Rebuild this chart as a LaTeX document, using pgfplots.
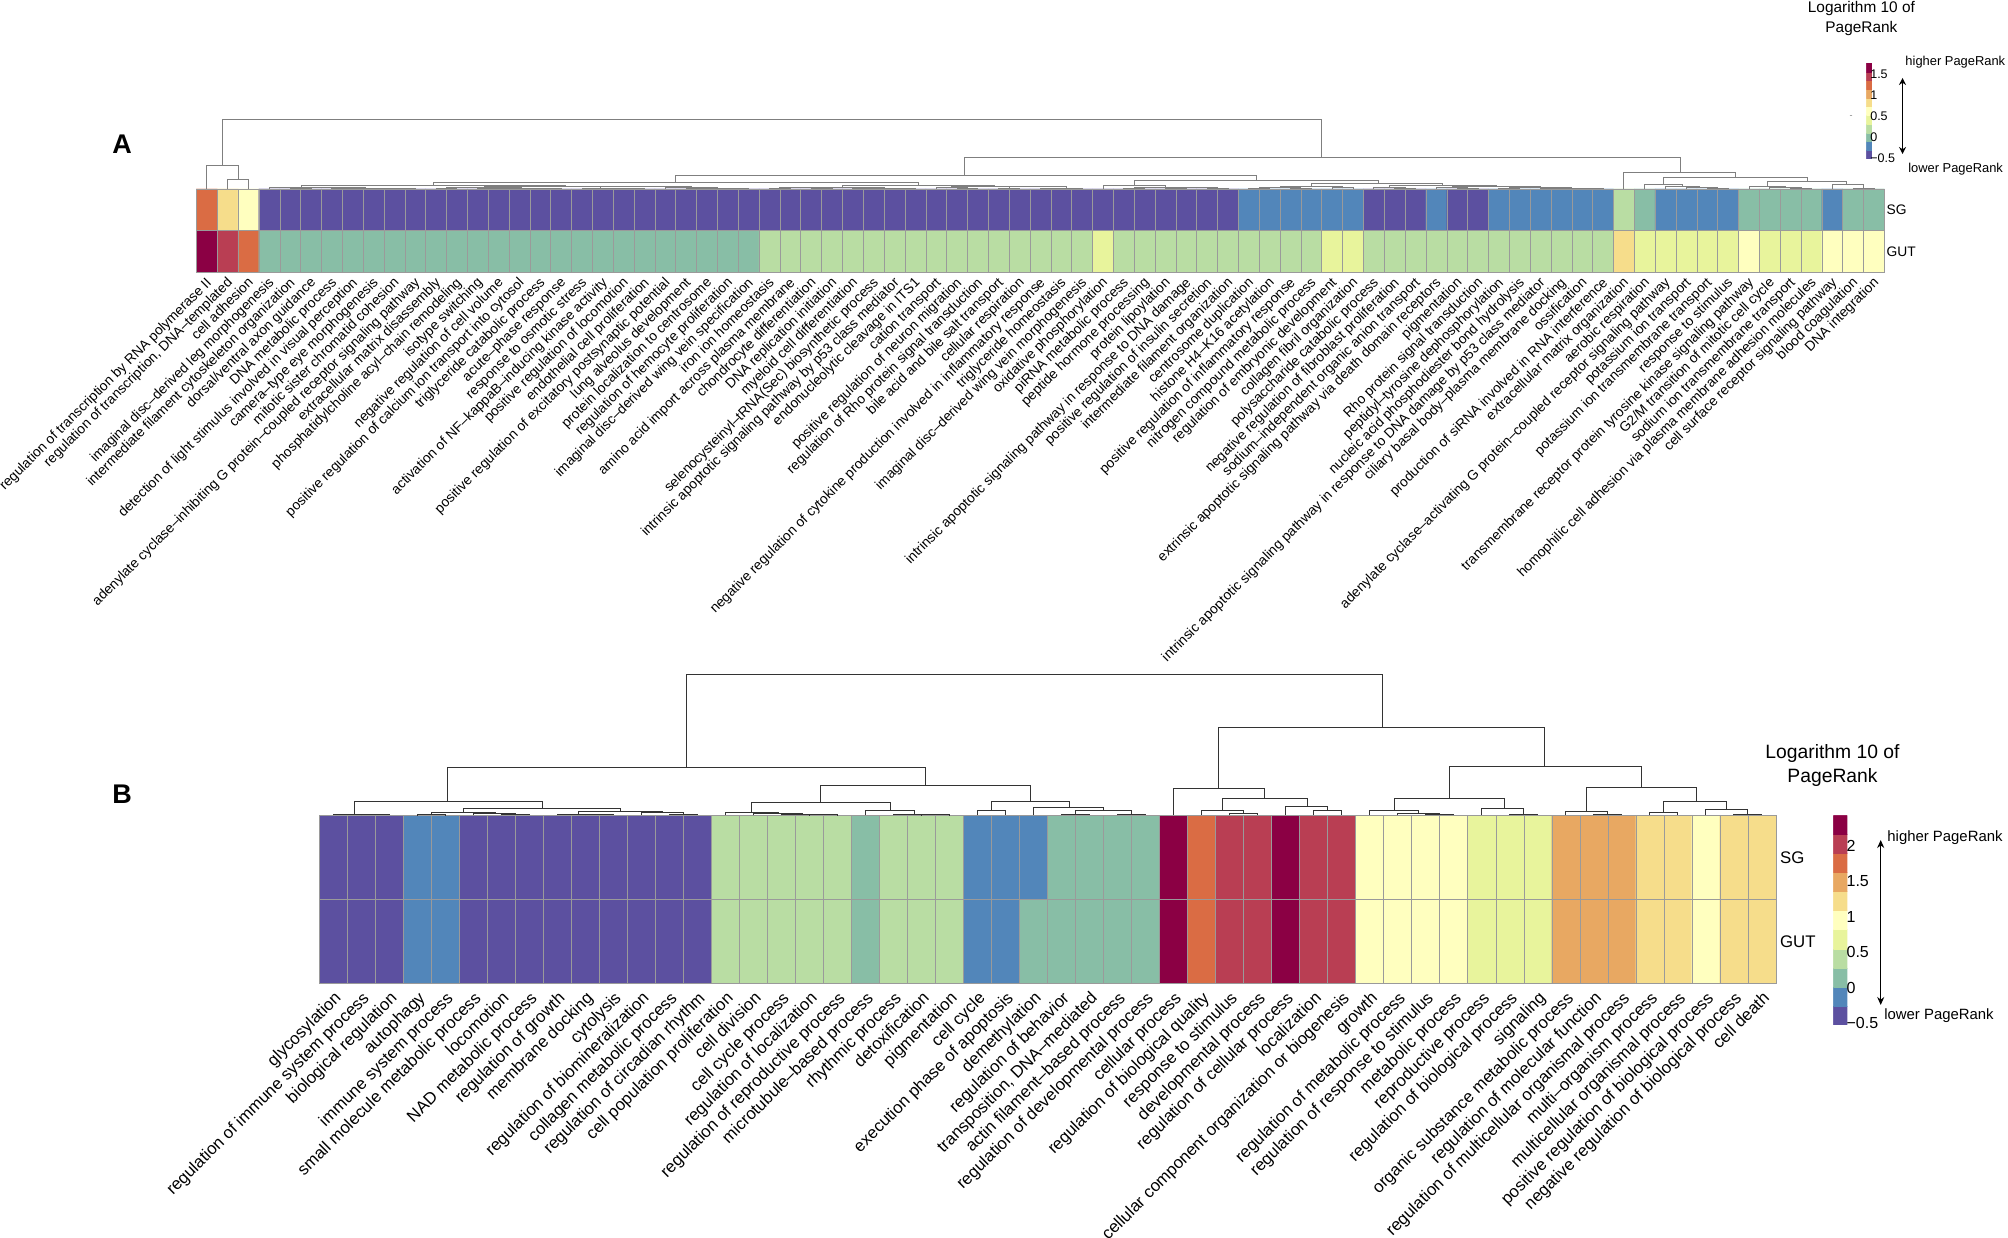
\documentclass[border=0pt]{standalone}
\usepackage{fontspec}
\setmainfont{Liberation Sans}
\usepackage{pgfplots}
\pgfplotsset{compat=1.18}
\usetikzlibrary{arrows.meta}

\definecolor{dendA}{HTML}{7F7F7F}
\definecolor{dendB}{HTML}{333333}
\definecolor{cellgrid}{HTML}{9A9A9A}

% spectral, 11 classes
\pgfplotsset{
  colormap={prank}{
    rgb255=(92,80,160) rgb255=(82,134,186) rgb255=(136,190,166) rgb255=(185,221,163)
    rgb255=(232,244,156) rgb255=(255,255,191) rgb255=(246,221,139) rgb255=(232,168,98)
    rgb255=(218,108,68) rgb255=(185,62,83) rgb255=(139,0,68)
  },
  heat/.style={
    scale only axis,
    colormap name=prank,
    colormap access=piecewise constant,
    axis on top,
    axis line style={draw=cellgrid},
    tick style={draw=none},
    major tick length=0pt,
    minor tick length=0pt,
    minor x tick num=1,
    minor y tick num=1,
    xminorgrids, yminorgrids,
    minor grid style={draw=cellgrid, line width=0.5pt},
    ytick={0,1},
    yticklabels={SG,GUT},
    yticklabel pos=right,
    y dir=reverse,
    clip=false,
  },
  dend/.style={
    scale only axis,
    axis lines=none,
    ymin=0,
    unbounded coords=jump,
  },
}

\begin{document}
\begin{tikzpicture}
\path[use as bounding box] (0pt,0pt) rectangle (2008pt,1237pt);

% ---------- panel A ----------
\begin{axis}[heat,
  at={(196.4pt,964.7pt)}, anchor=south west,
  width=1688pt, height=83.3pt,
  xmin=0.5, xmax=81.5, ymin=-0.5, ymax=1.5,
  xtick={1,...,81},
  xticklabels={
    regulation of transcription by RNA polymerase II,
    {regulation of transcription, DNA–templated},
    cell adhesion,
    imaginal disc–derived leg morphogenesis,
    intermediate filament cytoskeleton organization,
    dorsal/ventral axon guidance,
    DNA metabolic process,
    detection of light stimulus involved in visual perception,
    camera–type eye morphogenesis,
    mitotic sister chromatid cohesion,
    adenylate cyclase–inhibiting G protein–coupled receptor signaling pathway,
    extracellular matrix disassembly,
    phosphatidylcholine acyl–chain remodeling,
    isotype switching,
    negative regulation of cell volume,
    positive regulation of calcium ion transport into cytosol,
    triglyceride catabolic process,
    acute–phase response,
    response to osmotic stress,
    activation of NF–kappaB–inducing kinase activity,
    positive regulation of locomotion,
    endothelial cell proliferation,
    positive regulation of excitatory postsynaptic potential,
    lung alveolus development,
    protein localization to centrosome,
    regulation of hemocyte proliferation,
    imaginal disc–derived wing vein specification,
    iron ion homeostasis,
    amino acid import across plasma membrane,
    chondrocyte differentiation,
    DNA replication initiation,
    myeloid cell differentiation,
    selenocysteinyl–tRNA(Sec) biosynthetic process,
    intrinsic apoptotic signaling pathway by p53 class mediator,
    endonucleolytic cleavage in ITS1,
    cation transport,
    positive regulation of neuron migration,
    regulation of Rho protein signal transduction,
    bile acid and bile salt transport,
    cellular respiration,
    negative regulation of cytokine production involved in inflammatory response,
    triglyceride homeostasis,
    imaginal disc–derived wing vein morphogenesis,
    oxidative phosphorylation,
    piRNA metabolic process,
    peptide hormone processing,
    protein lipoylation,
    intrinsic apoptotic signaling pathway in response to DNA damage,
    positive regulation of insulin secretion,
    intermediate filament organization,
    centrosome duplication,
    histone H4–K16 acetylation,
    positive regulation of inflammatory response,
    nitrogen compound metabolic process,
    regulation of embryonic development,
    collagen fibril organization,
    polysaccharide catabolic process,
    negative regulation of fibroblast proliferation,
    sodium–independent organic anion transport,
    extrinsic apoptotic signaling pathway via death domain receptors,
    pigmentation,
    Rho protein signal transduction,
    peptidyl–tyrosine dephosphorylation,
    nucleic acid phosphodiester bond hydrolysis,
    intrinsic apoptotic signaling pathway in response to DNA damage by p53 class mediator,
    ciliary basal body–plasma membrane docking,
    ossification,
    production of siRNA involved in RNA interference,
    extracellular matrix organization,
    aerobic respiration,
    adenylate cyclase–activating G protein–coupled receptor signaling pathway,
    potassium ion transport,
    potassium ion transmembrane transport,
    response to stimulus,
    transmembrane receptor protein tyrosine kinase signaling pathway,
    G2/M transition of mitotic cell cycle,
    sodium ion transmembrane transport,
    homophilic cell adhesion via plasma membrane adhesion molecules,
    cell surface receptor signaling pathway,
    blood coagulation,
    DNA integration},
  x tick label style={rotate=45, anchor=north east, inner sep=0pt,
    font=\fontsize{13.8}{16}\selectfont, xshift=-4pt, yshift=-1.5pt},
  y tick label style={font=\fontsize{13.8}{16}\selectfont, anchor=west, inner sep=0pt, xshift=2pt},
  point meta min=-0.53, point meta max=1.78,
  colorbar sampled,
  colorbar style={
    samples=12,
    at={(parent axis.north east)}, anchor=north west,
    xshift=-26.5pt, yshift=126pt,
    width=6.2pt, height=96pt,
    y dir=normal, xminorgrids=false, yminorgrids=false, minor x tick num=0, minor y tick num=0,
    axis on top=false,
    ytick={-0.5,0,0.5,1,1.5},
    yticklabels={−0.5,0,0.5,1,1.5},
    axis line style={draw=none}, tick style={draw=none}, major tick length=0pt,
    y tick label style={font=\fontsize{12.5}{14}\selectfont, inner sep=0pt, xshift=-2.5pt, anchor=west},
  },
]
\addplot[matrix plot*, mesh/cols=81, point meta=explicit]
  table[x=x, y=y, meta=m, row sep=\\]{
x y m\\
1 0 1.255\\ 2 0 0.835\\ 3 0 0.625\\ 4 0 -0.425\\ 5 0 -0.425\\ 6 0 -0.425\\ 7 0 -0.425\\ 8 0 -0.425\\ 9 0 -0.425\\
10 0 -0.425\\ 11 0 -0.425\\ 12 0 -0.425\\ 13 0 -0.425\\ 14 0 -0.425\\ 15 0 -0.425\\ 16 0 -0.425\\ 17 0 -0.425\\ 18 0 -0.425\\
19 0 -0.425\\ 20 0 -0.425\\ 21 0 -0.425\\ 22 0 -0.425\\ 23 0 -0.425\\ 24 0 -0.425\\ 25 0 -0.425\\ 26 0 -0.425\\ 27 0 -0.425\\
28 0 -0.425\\ 29 0 -0.425\\ 30 0 -0.425\\ 31 0 -0.425\\ 32 0 -0.425\\ 33 0 -0.425\\ 34 0 -0.425\\ 35 0 -0.425\\ 36 0 -0.425\\
37 0 -0.425\\ 38 0 -0.425\\ 39 0 -0.425\\ 40 0 -0.425\\ 41 0 -0.425\\ 42 0 -0.425\\ 43 0 -0.425\\ 44 0 -0.425\\ 45 0 -0.425\\
46 0 -0.425\\ 47 0 -0.425\\ 48 0 -0.425\\ 49 0 -0.425\\ 50 0 -0.425\\ 51 0 -0.215\\ 52 0 -0.215\\ 53 0 -0.215\\ 54 0 -0.215\\
55 0 -0.215\\ 56 0 -0.215\\ 57 0 -0.425\\ 58 0 -0.425\\ 59 0 -0.425\\ 60 0 -0.215\\ 61 0 -0.425\\ 62 0 -0.425\\ 63 0 -0.215\\
64 0 -0.215\\ 65 0 -0.215\\ 66 0 -0.215\\ 67 0 -0.215\\ 68 0 -0.215\\ 69 0 0.205\\ 70 0 -0.005\\ 71 0 -0.215\\ 72 0 -0.215\\
73 0 -0.215\\ 74 0 -0.215\\ 75 0 -0.005\\ 76 0 -0.005\\ 77 0 -0.005\\ 78 0 -0.005\\ 79 0 -0.215\\ 80 0 -0.005\\ 81 0 -0.005\\
1 1 1.675\\ 2 1 1.465\\ 3 1 1.255\\ 4 1 -0.005\\ 5 1 -0.005\\ 6 1 -0.005\\ 7 1 -0.005\\ 8 1 -0.005\\ 9 1 -0.005\\
10 1 -0.005\\ 11 1 -0.005\\ 12 1 -0.005\\ 13 1 -0.005\\ 14 1 -0.005\\ 15 1 -0.005\\ 16 1 -0.005\\ 17 1 -0.005\\ 18 1 -0.005\\
19 1 -0.005\\ 20 1 -0.005\\ 21 1 -0.005\\ 22 1 -0.005\\ 23 1 -0.005\\ 24 1 -0.005\\ 25 1 -0.005\\ 26 1 -0.005\\ 27 1 -0.005\\
28 1 0.205\\ 29 1 0.205\\ 30 1 0.205\\ 31 1 0.205\\ 32 1 0.205\\ 33 1 0.205\\ 34 1 0.205\\ 35 1 0.205\\ 36 1 0.205\\
37 1 0.205\\ 38 1 0.205\\ 39 1 0.205\\ 40 1 0.205\\ 41 1 0.205\\ 42 1 0.205\\ 43 1 0.205\\ 44 1 0.415\\ 45 1 0.205\\
46 1 0.205\\ 47 1 0.205\\ 48 1 0.205\\ 49 1 0.205\\ 50 1 0.205\\ 51 1 0.205\\ 52 1 0.205\\ 53 1 0.205\\ 54 1 0.205\\
55 1 0.415\\ 56 1 0.415\\ 57 1 0.205\\ 58 1 0.205\\ 59 1 0.205\\ 60 1 0.205\\ 61 1 0.205\\ 62 1 0.205\\ 63 1 0.205\\
64 1 0.205\\ 65 1 0.205\\ 66 1 0.205\\ 67 1 0.205\\ 68 1 0.205\\ 69 1 0.835\\ 70 1 0.415\\ 71 1 0.415\\ 72 1 0.415\\
73 1 0.415\\ 74 1 0.415\\ 75 1 0.625\\ 76 1 0.415\\ 77 1 0.415\\ 78 1 0.415\\ 79 1 0.625\\ 80 1 0.625\\ 81 1 0.625\\
};
\end{axis}

% dendrogram A, height in px above the heatmap
\begin{axis}[dend,
  at={(196.4pt,1048pt)}, anchor=south west,
  width=1688pt, height=75pt,
  xmin=0.5, xmax=81.5, ymax=75,
]
\addplot[dendA, line width=0.8pt] coordinates {
(1.75,23.3)(1.75,70)(54.5,70)(54.5,31.7)(nan,nan)
(1,0)(1,23.3)(2.5,23.3)(2.5,10)(nan,nan)
(2,0)(2,10)(3,10)(3,0)(nan,nan)
(37.35,13.3)(37.35,31.7)(71.7,31.7)(71.7,16.7)(nan,nan)
(23.5,6.7)(23.5,13.3)(51.35,13.3)(51.35,8.7)(nan,nan)
(11.86,4)(11.86,6.7)(35.15,6.7)(35.15,4)(nan,nan)
(5.53,1.7)(5.53,4)(18.2,4)(18.2,3)(nan,nan)
(4,0)(4,1.7)(7.06,1.7)(7.06,1.1)(nan,nan)
(5.5,0.5)(5.5,1.1)(8.625,1.1)(8.625,0.7)(nan,nan)
(5,0)(5,0.5)(6,0.5)(6,0)(nan,nan)
(7.5,0.3)(7.5,0.7)(9.75,0.7)(9.75,0.5)(nan,nan)
(7,0)(7,0.3)(8,0.3)(8,0)(nan,nan)
(9,0)(9,0.5)(10.5,0.5)(10.5,0.3)(nan,nan)
(10,0)(10,0.3)(11,0.3)(11,0)(nan,nan)
(14.3,1.3)(14.3,3)(22.1,3)(22.1,2.3)(nan,nan)
(12.5,0.5)(12.5,1.3)(16.1,1.3)(16.1,1)(nan,nan)
(12,0)(12,0.5)(13,0.5)(13,0)(nan,nan)
(14.75,0.6)(14.75,1)(17.5,1)(17.5,0.5)(nan,nan)
(14,0)(14,0.6)(15.5,0.6)(15.5,0.3)(nan,nan)
(15,0)(15,0.3)(16,0.3)(16,0)(nan,nan)
(17,0)(17,0.5)(18,0.5)(18,0)(nan,nan)
(19.9,1)(19.9,2.3)(24.25,2.3)(24.25,1.3)(nan,nan)
(19,0)(19,1)(20.75,1)(20.75,0.6)(nan,nan)
(20,0)(20,0.6)(21.5,0.6)(21.5,0.3)(nan,nan)
(21,0)(21,0.3)(22,0.3)(22,0)(nan,nan)
(23,0)(23,1.3)(25.5,1.3)(25.5,0.9)(nan,nan)
(24.5,0.4)(24.5,0.9)(26.5,0.9)(26.5,0.4)(nan,nan)
(24,0)(24,0.4)(25,0.4)(25,0)(nan,nan)
(26,0)(26,0.4)(27,0.4)(27,0)(nan,nan)
(31.5,1.5)(31.5,4)(38.8,4)(38.8,3)(nan,nan)
(29.5,1.1)(29.5,1.5)(33.5,1.5)(33.5,0.8)(nan,nan)
(28.5,0.5)(28.5,1.1)(30.5,1.1)(30.5,0.8)(nan,nan)
(28,0)(28,0.5)(29,0.5)(29,0)(nan,nan)
(30,0)(30,0.8)(31,0.8)(31,0)(nan,nan)
(32.5,0.6)(32.5,0.8)(34.5,0.8)(34.5,0.4)(nan,nan)
(32,0)(32,0.6)(33,0.6)(33,0)(nan,nan)
(34,0)(34,0.4)(35,0.4)(35,0)(nan,nan)
(36.75,1.5)(36.75,3)(40.9,3)(40.9,2.2)(nan,nan)
(36,0)(36,1.5)(37.5,1.5)(37.5,0.6)(nan,nan)
(37,0)(37,0.6)(38,0.6)(38,0)(nan,nan)
(39.5,0.8)(39.5,2.2)(42.25,2.2)(42.25,0.7)(nan,nan)
(39,0)(39,0.8)(40,0.8)(40,0)(nan,nan)
(41.5,0.4)(41.5,0.7)(43,0.7)(43,0)(nan,nan)
(41,0)(41,0.4)(42,0.4)(42,0)(nan,nan)
(45.5,4)(45.5,8.7)(57.2,8.7)(57.2,5.7)(nan,nan)
(44,0)(44,4)(47,4)(47,1.7)(nan,nan)
(45.5,0.8)(45.5,1.7)(48.5,1.7)(48.5,1.2)(nan,nan)
(45,0)(45,0.8)(46,0.8)(46,0)(nan,nan)
(47.5,1)(47.5,1.2)(49.5,1.2)(49.5,0.5)(nan,nan)
(47,0)(47,1)(48,1)(48,0)(nan,nan)
(49,0)(49,0.5)(50,0.5)(50,0)(nan,nan)
(54,3)(54,5.7)(60.3,5.7)(60.3,3.7)(nan,nan)
(52.5,1.4)(52.5,3)(55.5,3)(55.5,2)(nan,nan)
(51.5,0.6)(51.5,1.4)(53.5,1.4)(53.5,0.8)(nan,nan)
(51,0)(51,0.6)(52,0.6)(52,0)(nan,nan)
(53,0)(53,0.8)(54,0.8)(54,0)(nan,nan)
(55,0)(55,2)(56,2)(56,0)(nan,nan)
(57.75,1.5)(57.75,3.7)(62.875,3.7)(62.875,2.8)(nan,nan)
(57,0)(57,1.5)(58.5,1.5)(58.5,0.8)(nan,nan)
(58,0)(58,0.8)(59,0.8)(59,0)(nan,nan)
(60.75,1.7)(60.75,2.8)(65,2.8)(65,1.6)(nan,nan)
(60,0)(60,1.7)(61.5,1.7)(61.5,1)(nan,nan)
(61,0)(61,1)(62,1)(62,0)(nan,nan)
(63.5,0.8)(63.5,1.6)(66.5,1.6)(66.5,1)(nan,nan)
(63,0)(63,0.8)(64,0.8)(64,0)(nan,nan)
(65.5,0.6)(65.5,1)(67.5,1)(67.5,0.5)(nan,nan)
(65,0)(65,0.6)(66,0.6)(66,0)(nan,nan)
(67,0)(67,0.5)(68,0.5)(68,0)(nan,nan)
(69,0)(69,16.7)(74.35,16.7)(74.35,11.3)(nan,nan)
(70.9,4.7)(70.9,11.3)(77.8,11.3)(77.8,7.3)(nan,nan)
(70,0)(70,4.7)(71.8,4.7)(71.8,2.3)(nan,nan)
(71,0)(71,2.3)(72.6,2.3)(72.6,1.5)(nan,nan)
(72,0)(72,1.5)(73.5,1.5)(73.5,0.8)(nan,nan)
(73,0)(73,0.8)(74,0.8)(74,0)(nan,nan)
(75.9,2.7)(75.9,7.3)(79.7,7.3)(79.7,4.7)(nan,nan)
(75,0)(75,2.7)(76.75,2.7)(76.75,1.8)(nan,nan)
(76,0)(76,1.8)(77.5,1.8)(77.5,1)(nan,nan)
(77,0)(77,1)(78,1)(78,0)(nan,nan)
(79,0)(79,4.7)(80.5,4.7)(80.5,1)(nan,nan)
(80,0)(80,1)(81,1)(81,0)
};
\end{axis}

% ---------- panel B ----------
\begin{axis}[heat,
  at={(319.3pt,253.7pt)}, anchor=south west,
  width=1456.6pt, height=168pt,
  xmin=0.5, xmax=52.5, ymin=-0.5, ymax=1.5,
  xtick={1,...,52},
  xticklabels={
    glycosylation,
    regulation of immune system process,
    biological regulation,
    autophagy,
    immune system process,
    small molecule metabolic process,
    locomotion,
    NAD metabolic process,
    regulation of growth,
    membrane docking,
    cytolysis,
    regulation of biomineralization,
    collagen metabolic process,
    regulation of circadian rhythm,
    cell population proliferation,
    cell division,
    cell cycle process,
    regulation of localization,
    regulation of reproductive process,
    microtubule–based process,
    rhythmic process,
    detoxification,
    pigmentation,
    cell cycle,
    execution phase of apoptosis,
    demethylation,
    regulation of behavior,
    {transposition, DNA–mediated},
    actin filament–based process,
    regulation of developmental process,
    cellular process,
    regulation of biological quality,
    response to stimulus,
    developmental process,
    regulation of cellular process,
    localization,
    cellular component organization or biogenesis,
    growth,
    regulation of metabolic process,
    regulation of response to stimulus,
    metabolic process,
    reproductive process,
    regulation of biological process,
    signaling,
    organic substance metabolic process,
    regulation of molecular function,
    regulation of multicellular organismal process,
    multi–organism process,
    multicellular organismal process,
    positive regulation of biological process,
    negative regulation of biological process,
    cell death},
  x tick label style={rotate=45, anchor=north east, inner sep=0pt,
    font=\fontsize{16.8}{19}\selectfont, xshift=-5pt, yshift=-4.8pt},
  y tick label style={font=\fontsize{16.8}{19}\selectfont, anchor=west, inner sep=0pt, xshift=4pt},
  point meta min=-0.525, point meta max=2.427,
  colorbar sampled,
  colorbar style={
    samples=12,
    at={(parent axis.north east)}, anchor=north west,
    xshift=48.9pt,
    width=14.1pt, height=209.7pt,
    y dir=normal, xminorgrids=false, yminorgrids=false, minor x tick num=0, minor y tick num=0,
    axis on top=false,
    ytick={-0.5,0,0.5,1,1.5,2},
    yticklabels={−0.5,0,0.5,1,1.5,2},
    axis line style={draw=none}, tick style={draw=none}, major tick length=0pt,
    y tick label style={font=\fontsize{16}{18}\selectfont, inner sep=0pt, xshift=-1pt, anchor=west},
  },
]
\addplot[matrix plot*, mesh/cols=52, point meta=explicit]
  table[x=x, y=y, meta=m, row sep=\\]{
x y m\\
1 0 -0.391\\ 2 0 -0.391\\ 3 0 -0.391\\ 4 0 -0.123\\ 5 0 -0.123\\ 6 0 -0.391\\ 7 0 -0.391\\ 8 0 -0.391\\ 9 0 -0.391\\
10 0 -0.391\\ 11 0 -0.391\\ 12 0 -0.391\\ 13 0 -0.391\\ 14 0 -0.391\\ 15 0 0.413\\ 16 0 0.413\\ 17 0 0.413\\ 18 0 0.413\\
19 0 0.413\\ 20 0 0.145\\ 21 0 0.413\\ 22 0 0.413\\ 23 0 0.413\\ 24 0 -0.123\\ 25 0 -0.123\\ 26 0 -0.123\\ 27 0 0.145\\
28 0 0.145\\ 29 0 0.145\\ 30 0 0.145\\ 31 0 2.289\\ 32 0 1.753\\ 33 0 2.021\\ 34 0 2.021\\ 35 0 2.289\\ 36 0 2.021\\
37 0 2.021\\ 38 0 0.949\\ 39 0 0.949\\ 40 0 0.949\\ 41 0 0.949\\ 42 0 0.681\\ 43 0 0.681\\ 44 0 0.681\\ 45 0 1.485\\
46 0 1.485\\ 47 0 1.485\\ 48 0 1.217\\ 49 0 1.217\\ 50 0 0.949\\ 51 0 1.217\\ 52 0 1.217\\
1 1 -0.391\\ 2 1 -0.391\\ 3 1 -0.391\\ 4 1 -0.123\\ 5 1 -0.123\\ 6 1 -0.391\\ 7 1 -0.391\\ 8 1 -0.391\\ 9 1 -0.391\\
10 1 -0.391\\ 11 1 -0.391\\ 12 1 -0.391\\ 13 1 -0.391\\ 14 1 -0.391\\ 15 1 0.413\\ 16 1 0.413\\ 17 1 0.413\\ 18 1 0.413\\
19 1 0.413\\ 20 1 0.145\\ 21 1 0.413\\ 22 1 0.413\\ 23 1 0.413\\ 24 1 -0.123\\ 25 1 -0.123\\ 26 1 0.145\\ 27 1 0.145\\
28 1 0.145\\ 29 1 0.145\\ 30 1 0.145\\ 31 1 2.289\\ 32 1 1.753\\ 33 1 2.021\\ 34 1 2.021\\ 35 1 2.289\\ 36 1 2.021\\
37 1 2.021\\ 38 1 0.949\\ 39 1 0.949\\ 40 1 0.949\\ 41 1 0.949\\ 42 1 0.681\\ 43 1 0.681\\ 44 1 0.681\\ 45 1 1.485\\
46 1 1.485\\ 47 1 1.485\\ 48 1 1.217\\ 49 1 1.217\\ 50 1 0.949\\ 51 1 1.217\\ 52 1 1.217\\
};
\end{axis}

% dendrogram B
\begin{axis}[dend,
  at={(319.3pt,421.7pt)}, anchor=south west,
  width=1456.6pt, height=150pt,
  xmin=0.5, xmax=52.5, ymax=150,
]
\addplot[dendB, line width=0.9pt] coordinates {
(13.62,47.7)(13.62,140.7)(38.45,140.7)(38.45,87.7)(nan,nan)
(5.09,14.3)(5.09,47.7)(22.15,47.7)(22.15,30.3)(nan,nan)
(1.75,1.3)(1.75,14.3)(8.45,14.3)(8.45,7.3)(nan,nan)
(1,0)(1,1.3)(2.5,1.3)(2.5,0.8)(nan,nan)
(2,0)(2,0.8)(3,0.8)(3,0)(nan,nan)
(5.65,2.7)(5.65,7.3)(11.25,7.3)(11.25,3.7)(nan,nan)
(4.5,0.7)(4.5,2.7)(6.78,2.7)(6.78,2)(nan,nan)
(4,0)(4,0.7)(5,0.7)(5,0)(nan,nan)
(6,0)(6,2)(7.5,2)(7.5,1)(nan,nan)
(7,0)(7,1)(8,1)(8,0)(nan,nan)
(9.75,1.3)(9.75,3.7)(12.75,3.7)(12.75,3)(nan,nan)
(9,0)(9,1.3)(10.5,1.3)(10.5,0.8)(nan,nan)
(10,0)(10,0.8)(11,0.8)(11,0)(nan,nan)
(12,0)(12,3)(13.5,3)(13.5,1)(nan,nan)
(13,0)(13,1)(14,1)(14,0)(nan,nan)
(18.4,12.7)(18.4,30.3)(25.9,30.3)(25.9,13.7)(nan,nan)
(15.94,3)(15.94,12.7)(20.88,12.7)(20.88,5)(nan,nan)
(15,0)(15,3)(16.9,3)(16.9,2)(nan,nan)
(16,0)(16,2)(17.75,2)(17.75,1.3)(nan,nan)
(17,0)(17,1.3)(18.5,1.3)(18.5,0.5)(nan,nan)
(18,0)(18,0.5)(19,0.5)(19,0)(nan,nan)
(20,0)(20,5)(21.75,5)(21.75,1)(nan,nan)
(21,0)(21,1)(22.5,1)(22.5,0.4)(nan,nan)
(22,0)(22,0.4)(23,0.4)(23,0)(nan,nan)
(24.5,4.7)(24.5,13.7)(27.27,13.7)(27.27,8)(nan,nan)
(24,0)(24,4.7)(25,4.7)(25,0)(nan,nan)
(26,0)(26,8)(28.5,8)(28.5,5.3)(nan,nan)
(27.5,1)(27.5,5.3)(29.5,5.3)(29.5,1)(nan,nan)
(27,0)(27,1)(28,1)(28,0)(nan,nan)
(29,0)(29,1)(30,1)(30,0)(nan,nan)
(32.6,27.3)(32.6,87.7)(44.25,87.7)(44.25,48.7)(nan,nan)
(31,0)(31,27.3)(34.25,27.3)(34.25,17.3)(nan,nan)
(32.75,4.7)(32.75,17.3)(35.76,17.3)(35.76,9.3)(nan,nan)
(32,0)(32,4.7)(33.5,4.7)(33.5,2)(nan,nan)
(33,0)(33,2)(34,2)(34,0)(nan,nan)
(35,0)(35,9.3)(36.5,9.3)(36.5,4.7)(nan,nan)
(36,0)(36,4.7)(37,4.7)(37,0)(nan,nan)
(40.84,17.3)(40.84,48.7)(47.7,48.7)(47.7,27.7)(nan,nan)
(38.88,5.3)(38.88,17.3)(42.8,17.3)(42.8,7)(nan,nan)
(38,0)(38,5.3)(39.75,5.3)(39.75,1.7)(nan,nan)
(39,0)(39,1.7)(40.5,1.7)(40.5,1)(nan,nan)
(40,0)(40,1)(41,1)(41,0)(nan,nan)
(42,0)(42,7)(43.5,7)(43.5,1)(nan,nan)
(43,0)(43,1)(44,1)(44,0)(nan,nan)
(45.75,3.7)(45.75,27.7)(49.65,27.7)(49.65,14)(nan,nan)
(45,0)(45,3.7)(46.5,3.7)(46.5,1)(nan,nan)
(46,0)(46,1)(47,1)(47,0)(nan,nan)
(48.5,3.3)(48.5,14)(50.75,14)(50.75,6.3)(nan,nan)
(48,0)(48,3.3)(49,3.3)(49,0)(nan,nan)
(50,0)(50,6.3)(51.5,6.3)(51.5,1.3)(nan,nan)
(51,0)(51,1.3)(52,1.3)(52,0)
};
\end{axis}

% ---------- annotations, y measured from the page bottom ----------
\node[font=\bfseries\fontsize{27}{30}\selectfont] at (122pt,1092.3pt) {A};
\node[font=\bfseries\fontsize{27}{30}\selectfont] at (122pt,442.3pt) {B};

\node[font=\fontsize{15.4}{20}\selectfont, align=center] at (1861.4pt,1218.7pt) {Logarithm 10 of\\PageRank};
\node[font=\fontsize{12.9}{15}\selectfont] at (1955.3pt,1175.3pt) {higher PageRank};
\node[font=\fontsize{12.9}{15}\selectfont] at (1955.6pt,1067.7pt) {lower PageRank};
\node[font=\fontsize{9}{10}\selectfont, text=gray] at (1851pt,1120.3pt) {-};
\draw[{Stealth[length=7pt,width=7pt]}-{Stealth[length=7pt,width=7pt]}, line width=1.2pt] (1902.5pt,1159pt) -- (1902.5pt,1083pt);

\node[font=\fontsize{19.3}{24}\selectfont, align=center] at (1832.5pt,471.7pt) {Logarithm 10 of\\PageRank};
\node[font=\fontsize{14.9}{17}\selectfont] at (1945pt,399.3pt) {higher PageRank};
\node[font=\fontsize{14.9}{17}\selectfont] at (1939pt,221pt) {lower PageRank};
\draw[{Stealth[length=8pt,width=7pt]}-{Stealth[length=8pt,width=7pt]}, line width=1pt] (1880.7pt,397pt) -- (1880.7pt,232pt);
\end{tikzpicture}
\end{document}
